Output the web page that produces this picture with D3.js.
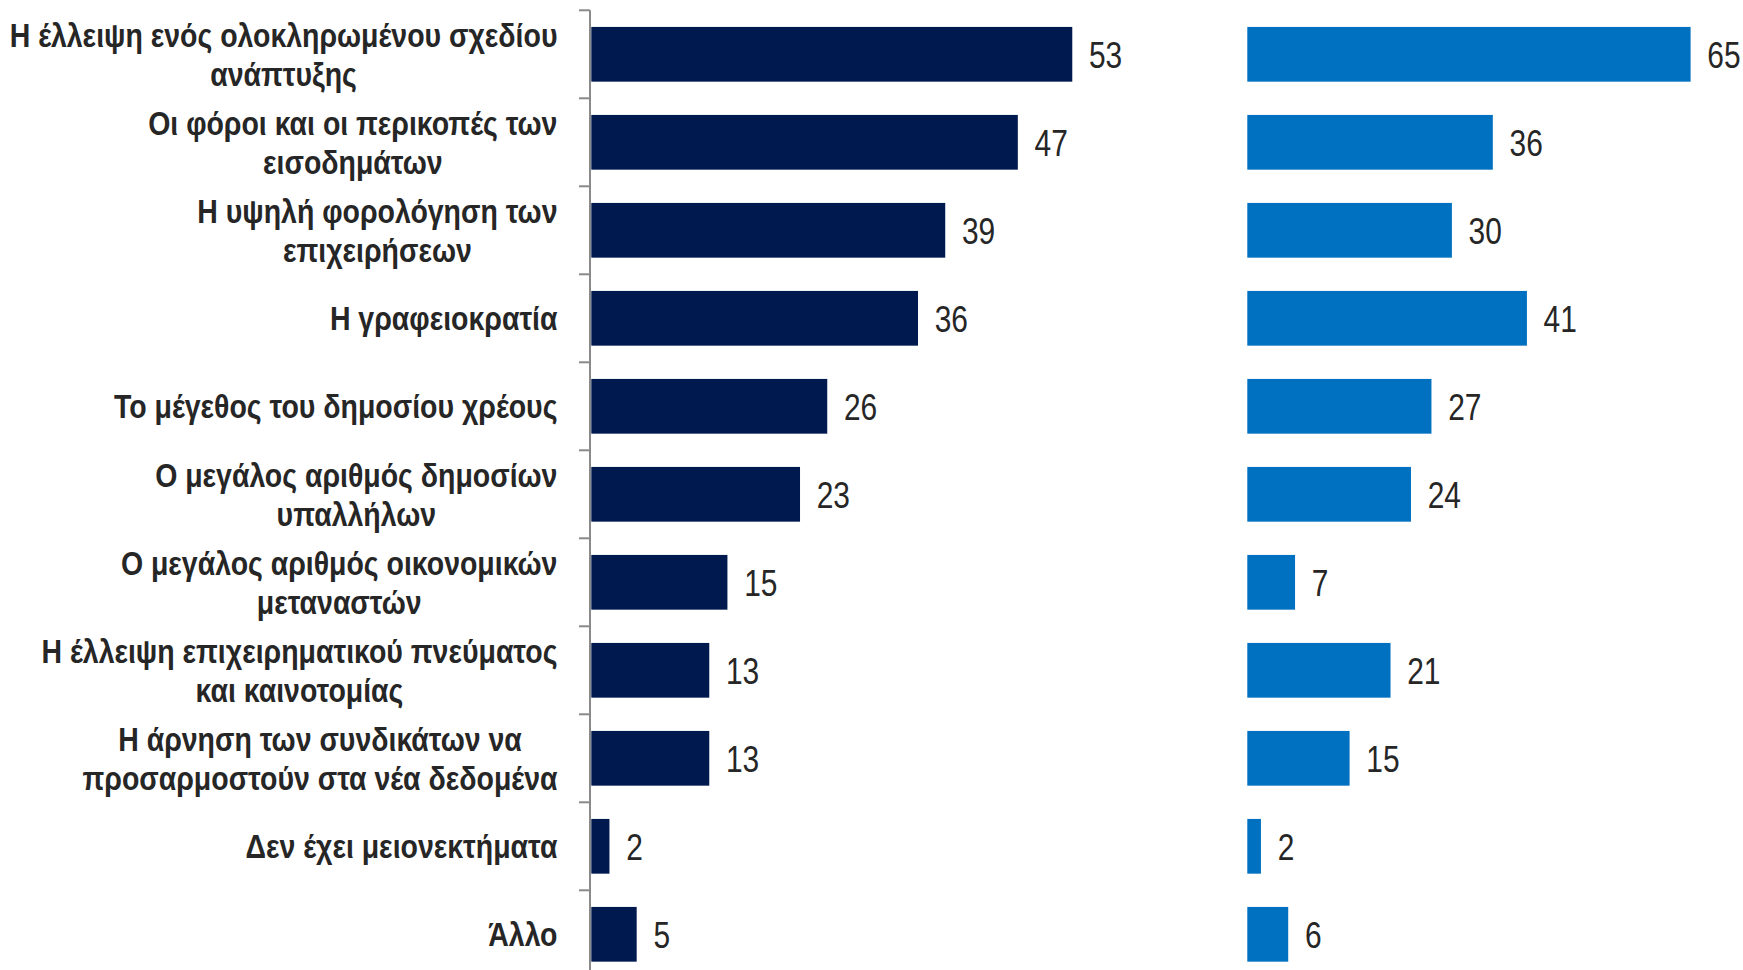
<!DOCTYPE html>
<html>
<head>
<meta charset="utf-8">
<script src="https://cdn.jsdelivr.net/npm/d3@7"></script>
<style>
  html, body { margin: 0; padding: 0; background: #ffffff; }
  svg { display: block; }
</style>
</head>
<body>
<script>
const categories = [
  ["Η έλλειψη ενός ολοκληρωμένου σχεδίου", "ανάπτυξης"],
  ["Οι φόροι και οι περικοπές των", "εισοδημάτων"],
  ["Η υψηλή φορολόγηση των", "επιχειρήσεων"],
  ["Η γραφειοκρατία"],
  ["Το μέγεθος του δημοσίου χρέους"],
  ["Ο μεγάλος αριθμός δημοσίων", "υπαλλήλων"],
  ["Ο μεγάλος αριθμός οικονομικών", "μεταναστών"],
  ["Η έλλειψη επιχειρηματικού πνεύματος", "και καινοτομίας"],
  ["Η άρνηση των συνδικάτων να", "προσαρμοστούν στα νέα δεδομένα"],
  ["Δεν έχει μειονεκτήματα"],
  ["Άλλο"]
];
const leftValues  = [53, 47, 39, 36, 26, 23, 15, 13, 13, 2, 5];
const rightValues = [65, 36, 30, 41, 27, 24, 7, 21, 15, 2, 6];

const W = 1743, H = 970;
const svg = d3.select("body").append("svg").attr("width", W).attr("height", H);

const idx = categories.map((d, i) => i);
const y = d3.scaleBand().domain(idx).range([10.3, 978.3]).paddingInner(0.378).paddingOuter(0.189);
const xL = d3.scaleLinear().domain([0, 60]).range([591.3, 591.3 + 60 * 9.075]);
const xR = d3.scaleLinear().domain([0, 70]).range([1247.3, 1247.3 + 70 * 6.82]);

const textColor = "#262626";
const fontFam = "'Liberation Sans', Arial, sans-serif";
const narrowV = 0.82;
const narrowL = 0.842;

// axis line + ticks at category boundaries
const axisX = 590;
svg.append("line").attr("x1", axisX).attr("x2", axisX).attr("y1", y.range()[0]).attr("y2", H)
  .attr("stroke", "#8a8a8a").attr("stroke-width", 2);
const boundaries = idx.map(i => y(i) - y.step() * y.paddingOuter());
svg.selectAll(".tick").data(boundaries).enter().append("line")
  .attr("x1", 579).attr("x2", axisX).attr("y1", d => d).attr("y2", d => d)
  .attr("stroke", "#8a8a8a").attr("stroke-width", 2);

// bars
svg.selectAll(".barL").data(leftValues).enter().append("rect")
  .attr("x", xL(0)).attr("y", (d, i) => y(i))
  .attr("width", d => xL(d) - xL(0)).attr("height", y.bandwidth())
  .attr("fill", "#00194F");
svg.selectAll(".barR").data(rightValues).enter().append("rect")
  .attr("x", xR(0)).attr("y", (d, i) => y(i))
  .attr("width", d => xR(d) - xR(0)).attr("height", y.bandwidth())
  .attr("fill", "#0070C0");

// value labels
const vFont = 36.5;
function valueLabels(vals, xs) {
  svg.selectAll(null).data(vals).enter().append("text")
    .attr("transform", (d, i) => `translate(${xs(d) + 16.7},${y(i) + y.bandwidth() / 2 + 13.4}) scale(${narrowV},1)`)
    .attr("font-family", fontFam)
    .attr("font-size", vFont)
    .attr("fill", textColor)
    .text(d => d);
}
valueLabels(leftValues, xL);
valueLabels(rightValues, xR);

// category labels (right aligned block, lines centered among themselves)
const lFont = 33.8, lineGap = 39.3, rightEdge = 557.5;
const groups = svg.selectAll(".cat").data(categories).enter().append("g");
groups.each(function(lines, i) {
  const g = d3.select(this);
  const c = y(i) + y.bandwidth() / 2;
  const n = lines.length;
  lines.forEach((t, k) => {
    g.append("text")
      .attr("y", c - (n - 1) * lineGap / 2 + 12 + k * lineGap)
      .attr("font-family", fontFam)
      .attr("font-weight", "bold")
      .attr("font-size", lFont)
      .attr("fill", textColor)
      .attr("text-anchor", "middle")
      .text(t);
  });
});
groups.each(function() {
  const g = d3.select(this);
  const widths = g.selectAll("text").nodes().map(n => n.getComputedTextLength());
  const maxW = d3.max(widths);
  g.selectAll("text").attr("x", -maxW / 2);
  g.attr("transform", `translate(${rightEdge},0) scale(${narrowL},1)`);
});
</script>
</body>
</html>
